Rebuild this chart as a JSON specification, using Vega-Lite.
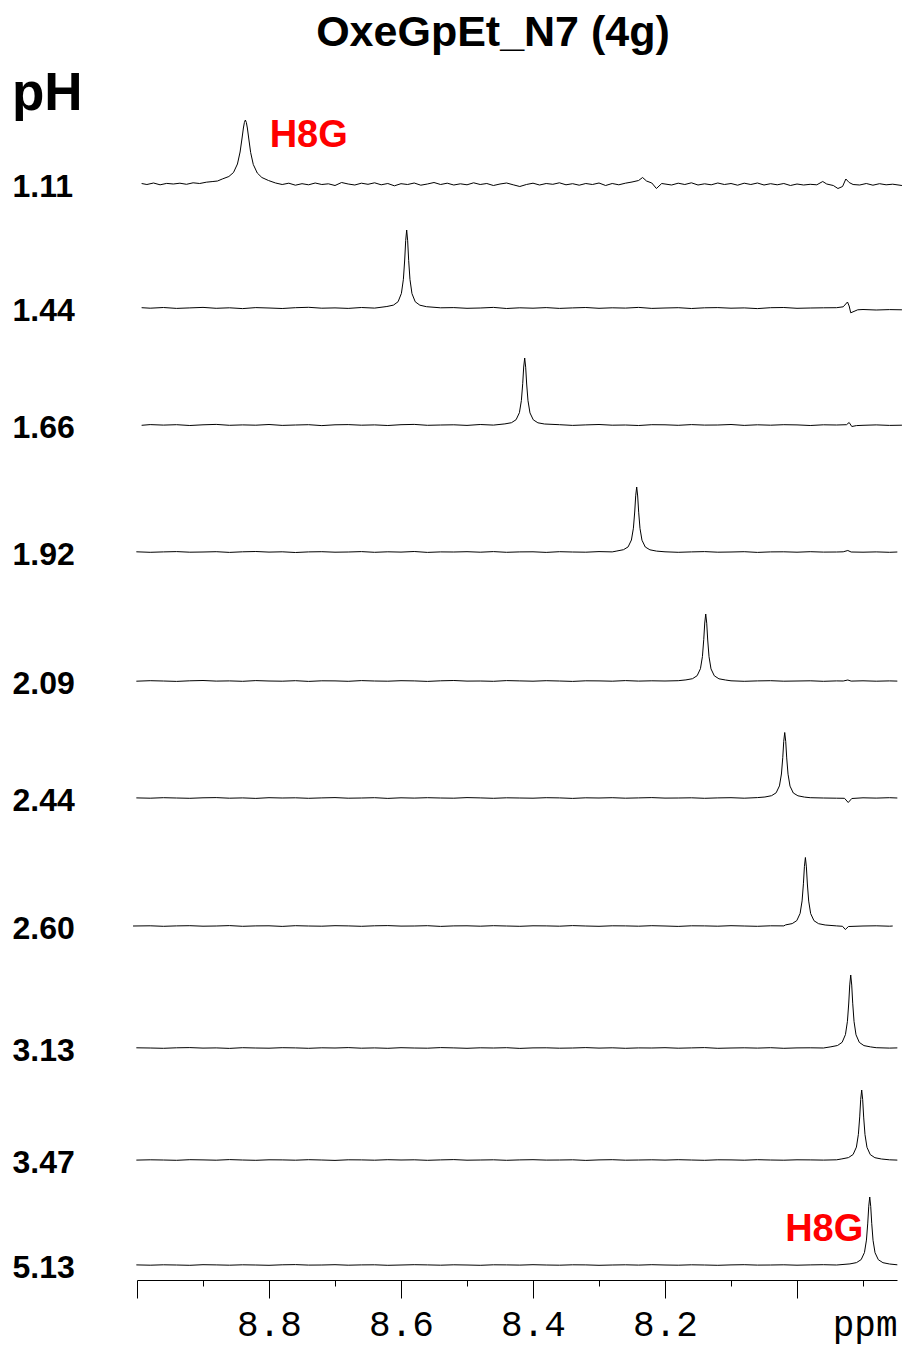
{
  "$schema": "https://vega.github.io/schema/vega-lite/v6.json",
  "padding": {"left": 12, "top": 12, "right": 0, "bottom": 2},
  "title": {"text": "OxeGpEt_N7 (4g)", "anchor": "middle", "font": "Liberation Sans", "fontSize": 43, "fontWeight": "bold", "color": "black", "dx": 35, "offset": 13},
  "data": {"values": [
    {"pH":"1.11","ppm":8.993,"signal":0.5},{"pH":"1.11","ppm":8.985,"signal":-0.5},{"pH":"1.11","ppm":8.975,"signal":1.0},{"pH":"1.11","ppm":8.965,"signal":-0.8},{"pH":"1.11","ppm":8.955,"signal":0.6},{"pH":"1.11","ppm":8.945,"signal":0.0},{"pH":"1.11","ppm":8.935,"signal":0.8},{"pH":"1.11","ppm":8.925,"signal":-0.3},{"pH":"1.11","ppm":8.915,"signal":1.2},{"pH":"1.11","ppm":8.905,"signal":0.5},{"pH":"1.11","ppm":8.895,"signal":1.8},{"pH":"1.11","ppm":8.885,"signal":2.5},{"pH":"1.11","ppm":8.878,"signal":3.0},
    {"pH":"1.11","ppm":8.8708,"signal":5.0},{"pH":"1.11","ppm":8.8608,"signal":7.5},{"pH":"1.11","ppm":8.8538,"signal":11.5},{"pH":"1.11","ppm":8.8478,"signal":20},{"pH":"1.11","ppm":8.8438,"signal":32},{"pH":"1.11","ppm":8.8408,"signal":46},{"pH":"1.11","ppm":8.8388,"signal":56},{"pH":"1.11","ppm":8.8373,"signal":61.5},{"pH":"1.11","ppm":8.8358,"signal":64},{"pH":"1.11","ppm":8.8343,"signal":61.5},{"pH":"1.11","ppm":8.8328,"signal":56},{"pH":"1.11","ppm":8.8308,"signal":46},{"pH":"1.11","ppm":8.8278,"signal":31.5},{"pH":"1.11","ppm":8.8238,"signal":19.5},{"pH":"1.11","ppm":8.8178,"signal":11},{"pH":"1.11","ppm":8.8108,"signal":6.5},{"pH":"1.11","ppm":8.8008,"signal":3.5},
    {"pH":"1.11","ppm":8.79,"signal":1.0},{"pH":"1.11","ppm":8.78,"signal":-0.5},{"pH":"1.11","ppm":8.77,"signal":0.8},{"pH":"1.11","ppm":8.76,"signal":-1.2},{"pH":"1.11","ppm":8.75,"signal":0.3},{"pH":"1.11","ppm":8.74,"signal":-0.8},{"pH":"1.11","ppm":8.73,"signal":1.0},{"pH":"1.11","ppm":8.72,"signal":-0.5},{"pH":"1.11","ppm":8.71,"signal":0.2},{"pH":"1.11","ppm":8.70,"signal":-1.5},{"pH":"1.11","ppm":8.69,"signal":1.5},{"pH":"1.11","ppm":8.68,"signal":0.0},{"pH":"1.11","ppm":8.67,"signal":-1.0},{"pH":"1.11","ppm":8.66,"signal":0.8},{"pH":"1.11","ppm":8.65,"signal":-0.3},{"pH":"1.11","ppm":8.64,"signal":1.2},{"pH":"1.11","ppm":8.63,"signal":-0.8},{"pH":"1.11","ppm":8.62,"signal":0.5},{"pH":"1.11","ppm":8.61,"signal":-1.8},{"pH":"1.11","ppm":8.60,"signal":0.3},{"pH":"1.11","ppm":8.59,"signal":-0.5},{"pH":"1.11","ppm":8.58,"signal":1.0},{"pH":"1.11","ppm":8.57,"signal":-1.2},{"pH":"1.11","ppm":8.56,"signal":0.0},{"pH":"1.11","ppm":8.55,"signal":1.5},{"pH":"1.11","ppm":8.54,"signal":-0.5},{"pH":"1.11","ppm":8.53,"signal":0.8},{"pH":"1.11","ppm":8.52,"signal":-1.0},{"pH":"1.11","ppm":8.51,"signal":0.2},{"pH":"1.11","ppm":8.50,"signal":-0.8},{"pH":"1.11","ppm":8.49,"signal":1.2},{"pH":"1.11","ppm":8.48,"signal":-0.5},{"pH":"1.11","ppm":8.47,"signal":0.5},{"pH":"1.11","ppm":8.46,"signal":-1.5},{"pH":"1.11","ppm":8.45,"signal":0.0},{"pH":"1.11","ppm":8.44,"signal":1.0},{"pH":"1.11","ppm":8.43,"signal":-0.8},{"pH":"1.11","ppm":8.42,"signal":-2.5},{"pH":"1.11","ppm":8.41,"signal":-0.5},{"pH":"1.11","ppm":8.40,"signal":0.8},{"pH":"1.11","ppm":8.39,"signal":-1.0},{"pH":"1.11","ppm":8.38,"signal":0.5},{"pH":"1.11","ppm":8.37,"signal":-0.3},{"pH":"1.11","ppm":8.36,"signal":1.2},{"pH":"1.11","ppm":8.35,"signal":-0.8},{"pH":"1.11","ppm":8.34,"signal":0.3},{"pH":"1.11","ppm":8.33,"signal":-1.2},{"pH":"1.11","ppm":8.32,"signal":0.5},{"pH":"1.11","ppm":8.31,"signal":-0.5},{"pH":"1.11","ppm":8.30,"signal":1.0},{"pH":"1.11","ppm":8.29,"signal":-1.5},{"pH":"1.11","ppm":8.28,"signal":0.5},{"pH":"1.11","ppm":8.27,"signal":-0.8},{"pH":"1.11","ppm":8.26,"signal":0.8},{"pH":"1.11","ppm":8.25,"signal":2.0},{"pH":"1.11","ppm":8.24,"signal":3.5},{"pH":"1.11","ppm":8.234,"signal":6.5},{"pH":"1.11","ppm":8.228,"signal":3.0},{"pH":"1.11","ppm":8.22,"signal":1.0},{"pH":"1.11","ppm":8.213,"signal":-4.5},{"pH":"1.11","ppm":8.205,"signal":0.5},{"pH":"1.11","ppm":8.19,"signal":-1.0},{"pH":"1.11","ppm":8.18,"signal":0.8},{"pH":"1.11","ppm":8.17,"signal":-0.5},{"pH":"1.11","ppm":8.16,"signal":1.2},{"pH":"1.11","ppm":8.15,"signal":-1.0},{"pH":"1.11","ppm":8.14,"signal":0.2},{"pH":"1.11","ppm":8.13,"signal":-0.8},{"pH":"1.11","ppm":8.12,"signal":1.0},{"pH":"1.11","ppm":8.11,"signal":-0.5},{"pH":"1.11","ppm":8.10,"signal":0.5},{"pH":"1.11","ppm":8.09,"signal":-1.2},{"pH":"1.11","ppm":8.08,"signal":0.8},{"pH":"1.11","ppm":8.07,"signal":-0.5},{"pH":"1.11","ppm":8.06,"signal":1.0},{"pH":"1.11","ppm":8.05,"signal":-1.0},{"pH":"1.11","ppm":8.04,"signal":0.3},{"pH":"1.11","ppm":8.03,"signal":-0.8},{"pH":"1.11","ppm":8.02,"signal":0.5},{"pH":"1.11","ppm":8.01,"signal":-1.5},{"pH":"1.11","ppm":8.00,"signal":0.0},{"pH":"1.11","ppm":7.99,"signal":-1.0},{"pH":"1.11","ppm":7.98,"signal":-0.3},{"pH":"1.11","ppm":7.97,"signal":-0.8},{"pH":"1.11","ppm":7.961,"signal":2.5},{"pH":"1.11","ppm":7.955,"signal":0.0},{"pH":"1.11","ppm":7.945,"signal":-1.5},{"pH":"1.11","ppm":7.938,"signal":-4.5},{"pH":"1.11","ppm":7.931,"signal":-2.5},{"pH":"1.11","ppm":7.926,"signal":5.0},{"pH":"1.11","ppm":7.921,"signal":1.5},{"pH":"1.11","ppm":7.915,"signal":-0.5},{"pH":"1.11","ppm":7.905,"signal":-1.0},{"pH":"1.11","ppm":7.895,"signal":0.5},{"pH":"1.11","ppm":7.885,"signal":-1.2},{"pH":"1.11","ppm":7.875,"signal":0.3},{"pH":"1.11","ppm":7.865,"signal":-0.8},{"pH":"1.11","ppm":7.855,"signal":-0.2},{"pH":"1.11","ppm":7.841,"signal":-1.5},

    {"pH":"1.44","ppm":8.993,"signal":0.3},{"pH":"1.44","ppm":8.98,"signal":-0.2},{"pH":"1.44","ppm":8.96,"signal":0.5},{"pH":"1.44","ppm":8.94,"signal":-0.4},{"pH":"1.44","ppm":8.92,"signal":0.1},{"pH":"1.44","ppm":8.90,"signal":0.6},{"pH":"1.44","ppm":8.88,"signal":-0.3},{"pH":"1.44","ppm":8.86,"signal":0.2},{"pH":"1.44","ppm":8.84,"signal":-0.6},{"pH":"1.44","ppm":8.82,"signal":0.4},{"pH":"1.44","ppm":8.80,"signal":0.0},{"pH":"1.44","ppm":8.78,"signal":-0.5},{"pH":"1.44","ppm":8.76,"signal":0.3},{"pH":"1.44","ppm":8.74,"signal":0.7},{"pH":"1.44","ppm":8.72,"signal":-0.2},{"pH":"1.44","ppm":8.70,"signal":0.1},{"pH":"1.44","ppm":8.68,"signal":-0.4},{"pH":"1.44","ppm":8.66,"signal":0.5},{"pH":"1.44","ppm":8.64,"signal":-0.1},
    {"pH":"1.44","ppm":8.6214,"signal":1.5},{"pH":"1.44","ppm":8.6114,"signal":2.9},{"pH":"1.44","ppm":8.6044,"signal":6.3},{"pH":"1.44","ppm":8.5994,"signal":14.6},{"pH":"1.44","ppm":8.5964,"signal":28.7},{"pH":"1.44","ppm":8.5944,"signal":48},{"pH":"1.44","ppm":8.5929,"signal":67.5},{"pH":"1.44","ppm":8.5914,"signal":78},{"pH":"1.44","ppm":8.5899,"signal":67.2},{"pH":"1.44","ppm":8.5884,"signal":47.6},{"pH":"1.44","ppm":8.5864,"signal":28.5},{"pH":"1.44","ppm":8.5834,"signal":14.4},{"pH":"1.44","ppm":8.5784,"signal":6.2},{"pH":"1.44","ppm":8.5714,"signal":2.8},{"pH":"1.44","ppm":8.5614,"signal":1.3},
    {"pH":"1.44","ppm":8.54,"signal":0.2},{"pH":"1.44","ppm":8.52,"signal":0.4},{"pH":"1.44","ppm":8.50,"signal":-0.3},{"pH":"1.44","ppm":8.48,"signal":0.0},{"pH":"1.44","ppm":8.46,"signal":0.6},{"pH":"1.44","ppm":8.44,"signal":-0.5},{"pH":"1.44","ppm":8.42,"signal":0.2},{"pH":"1.44","ppm":8.40,"signal":-0.2},{"pH":"1.44","ppm":8.38,"signal":0.4},{"pH":"1.44","ppm":8.36,"signal":-0.4},{"pH":"1.44","ppm":8.34,"signal":0.1},{"pH":"1.44","ppm":8.32,"signal":0.5},{"pH":"1.44","ppm":8.30,"signal":-0.3},{"pH":"1.44","ppm":8.28,"signal":0.2},{"pH":"1.44","ppm":8.26,"signal":-0.1},{"pH":"1.44","ppm":8.24,"signal":0.6},{"pH":"1.44","ppm":8.22,"signal":-0.4},{"pH":"1.44","ppm":8.20,"signal":0.0},{"pH":"1.44","ppm":8.18,"signal":0.3},{"pH":"1.44","ppm":8.16,"signal":-0.5},{"pH":"1.44","ppm":8.14,"signal":0.2},{"pH":"1.44","ppm":8.12,"signal":0.4},{"pH":"1.44","ppm":8.10,"signal":-0.2},{"pH":"1.44","ppm":8.08,"signal":0.1},{"pH":"1.44","ppm":8.06,"signal":-0.6},{"pH":"1.44","ppm":8.04,"signal":0.3},{"pH":"1.44","ppm":8.02,"signal":0.5},{"pH":"1.44","ppm":8.00,"signal":-0.3},{"pH":"1.44","ppm":7.98,"signal":0.0},{"pH":"1.44","ppm":7.96,"signal":0.2},{"pH":"1.44","ppm":7.94,"signal":0.3},{"pH":"1.44","ppm":7.93,"signal":1.2},{"pH":"1.44","ppm":7.9235,"signal":6.0},{"pH":"1.44","ppm":7.921,"signal":2.0},{"pH":"1.44","ppm":7.9186,"signal":-4.8},{"pH":"1.44","ppm":7.908,"signal":-1.8},{"pH":"1.44","ppm":7.90,"signal":-1.5},{"pH":"1.44","ppm":7.88,"signal":-2.0},{"pH":"1.44","ppm":7.86,"signal":-1.6},{"pH":"1.44","ppm":7.841,"signal":-1.8},

    {"pH":"1.66","ppm":8.993,"signal":-0.3},{"pH":"1.66","ppm":8.98,"signal":0.4},{"pH":"1.66","ppm":8.96,"signal":-0.1},{"pH":"1.66","ppm":8.94,"signal":0.3},{"pH":"1.66","ppm":8.92,"signal":-0.5},{"pH":"1.66","ppm":8.90,"signal":0.2},{"pH":"1.66","ppm":8.88,"signal":0.6},{"pH":"1.66","ppm":8.86,"signal":-0.3},{"pH":"1.66","ppm":8.84,"signal":0.1},{"pH":"1.66","ppm":8.82,"signal":-0.2},{"pH":"1.66","ppm":8.80,"signal":0.5},{"pH":"1.66","ppm":8.78,"signal":-0.4},{"pH":"1.66","ppm":8.76,"signal":0.0},{"pH":"1.66","ppm":8.74,"signal":0.3},{"pH":"1.66","ppm":8.72,"signal":-0.6},{"pH":"1.66","ppm":8.70,"signal":0.2},{"pH":"1.66","ppm":8.68,"signal":0.4},{"pH":"1.66","ppm":8.66,"signal":-0.2},{"pH":"1.66","ppm":8.64,"signal":0.1},{"pH":"1.66","ppm":8.62,"signal":-0.5},{"pH":"1.66","ppm":8.60,"signal":0.3},{"pH":"1.66","ppm":8.58,"signal":0.6},{"pH":"1.66","ppm":8.56,"signal":-0.3},{"pH":"1.66","ppm":8.54,"signal":0.0},{"pH":"1.66","ppm":8.52,"signal":0.2},{"pH":"1.66","ppm":8.50,"signal":-0.4},{"pH":"1.66","ppm":8.48,"signal":0.5},{"pH":"1.66","ppm":8.46,"signal":-0.1},
    {"pH":"1.66","ppm":8.4426,"signal":1.1},{"pH":"1.66","ppm":8.4326,"signal":2.3},{"pH":"1.66","ppm":8.4256,"signal":5.3},{"pH":"1.66","ppm":8.4206,"signal":12.3},{"pH":"1.66","ppm":8.4176,"signal":24.5},{"pH":"1.66","ppm":8.4156,"signal":41.3},{"pH":"1.66","ppm":8.4141,"signal":58.0},{"pH":"1.66","ppm":8.4126,"signal":67},{"pH":"1.66","ppm":8.4111,"signal":57.8},{"pH":"1.66","ppm":8.4096,"signal":41.0},{"pH":"1.66","ppm":8.4076,"signal":24.3},{"pH":"1.66","ppm":8.4046,"signal":12.1},{"pH":"1.66","ppm":8.3996,"signal":5.2},{"pH":"1.66","ppm":8.3926,"signal":2.2},{"pH":"1.66","ppm":8.3826,"signal":1.0},
    {"pH":"1.66","ppm":8.36,"signal":0.3},{"pH":"1.66","ppm":8.34,"signal":-0.4},{"pH":"1.66","ppm":8.32,"signal":0.1},{"pH":"1.66","ppm":8.30,"signal":0.5},{"pH":"1.66","ppm":8.28,"signal":-0.2},{"pH":"1.66","ppm":8.26,"signal":0.0},{"pH":"1.66","ppm":8.24,"signal":-0.5},{"pH":"1.66","ppm":8.22,"signal":0.3},{"pH":"1.66","ppm":8.20,"signal":0.2},{"pH":"1.66","ppm":8.18,"signal":-0.3},{"pH":"1.66","ppm":8.16,"signal":0.4},{"pH":"1.66","ppm":8.14,"signal":-0.1},{"pH":"1.66","ppm":8.12,"signal":0.0},{"pH":"1.66","ppm":8.10,"signal":0.5},{"pH":"1.66","ppm":8.08,"signal":-0.4},{"pH":"1.66","ppm":8.06,"signal":0.2},{"pH":"1.66","ppm":8.04,"signal":-0.2},{"pH":"1.66","ppm":8.02,"signal":0.3},{"pH":"1.66","ppm":8.00,"signal":0.1},{"pH":"1.66","ppm":7.98,"signal":-0.5},{"pH":"1.66","ppm":7.96,"signal":0.2},{"pH":"1.66","ppm":7.94,"signal":0.0},{"pH":"1.66","ppm":7.925,"signal":0.3},{"pH":"1.66","ppm":7.921,"signal":2.5},{"pH":"1.66","ppm":7.917,"signal":-1.5},{"pH":"1.66","ppm":7.91,"signal":-0.6},{"pH":"1.66","ppm":7.90,"signal":-0.3},{"pH":"1.66","ppm":7.88,"signal":0.1},{"pH":"1.66","ppm":7.86,"signal":-0.4},{"pH":"1.66","ppm":7.841,"signal":-0.2},

    {"pH":"1.92","ppm":9.001,"signal":0.2},{"pH":"1.92","ppm":8.98,"signal":-0.3},{"pH":"1.92","ppm":8.96,"signal":0.1},{"pH":"1.92","ppm":8.94,"signal":0.4},{"pH":"1.92","ppm":8.92,"signal":-0.2},{"pH":"1.92","ppm":8.90,"signal":0.0},{"pH":"1.92","ppm":8.88,"signal":0.3},{"pH":"1.92","ppm":8.86,"signal":-0.4},{"pH":"1.92","ppm":8.84,"signal":0.2},{"pH":"1.92","ppm":8.82,"signal":0.5},{"pH":"1.92","ppm":8.80,"signal":-0.1},{"pH":"1.92","ppm":8.78,"signal":0.2},{"pH":"1.92","ppm":8.76,"signal":-0.5},{"pH":"1.92","ppm":8.74,"signal":0.1},{"pH":"1.92","ppm":8.72,"signal":0.3},{"pH":"1.92","ppm":8.70,"signal":-0.2},{"pH":"1.92","ppm":8.68,"signal":0.0},{"pH":"1.92","ppm":8.66,"signal":0.4},{"pH":"1.92","ppm":8.64,"signal":-0.3},{"pH":"1.92","ppm":8.62,"signal":0.2},{"pH":"1.92","ppm":8.60,"signal":-0.1},{"pH":"1.92","ppm":8.58,"signal":0.5},{"pH":"1.92","ppm":8.56,"signal":-0.4},{"pH":"1.92","ppm":8.54,"signal":0.1},{"pH":"1.92","ppm":8.52,"signal":0.0},{"pH":"1.92","ppm":8.50,"signal":0.3},{"pH":"1.92","ppm":8.48,"signal":-0.2},{"pH":"1.92","ppm":8.46,"signal":0.4},{"pH":"1.92","ppm":8.44,"signal":-0.3},{"pH":"1.92","ppm":8.42,"signal":0.1},{"pH":"1.92","ppm":8.40,"signal":0.2},{"pH":"1.92","ppm":8.38,"signal":-0.4},{"pH":"1.92","ppm":8.36,"signal":0.3},{"pH":"1.92","ppm":8.34,"signal":0.0},{"pH":"1.92","ppm":8.32,"signal":-0.2},{"pH":"1.92","ppm":8.30,"signal":0.4},{"pH":"1.92","ppm":8.28,"signal":0.1},
    {"pH":"1.92","ppm":8.2729,"signal":1.0},{"pH":"1.92","ppm":8.2629,"signal":2.3},{"pH":"1.92","ppm":8.2559,"signal":5.1},{"pH":"1.92","ppm":8.2509,"signal":12.0},{"pH":"1.92","ppm":8.2479,"signal":23.8},{"pH":"1.92","ppm":8.2459,"signal":40.0},{"pH":"1.92","ppm":8.2444,"signal":56.2},{"pH":"1.92","ppm":8.2429,"signal":65},{"pH":"1.92","ppm":8.2414,"signal":56.0},{"pH":"1.92","ppm":8.2399,"signal":39.8},{"pH":"1.92","ppm":8.2379,"signal":23.6},{"pH":"1.92","ppm":8.2349,"signal":11.8},{"pH":"1.92","ppm":8.2299,"signal":5.0},{"pH":"1.92","ppm":8.2229,"signal":2.2},{"pH":"1.92","ppm":8.2129,"signal":0.9},
    {"pH":"1.92","ppm":8.20,"signal":0.2},{"pH":"1.92","ppm":8.18,"signal":-0.3},{"pH":"1.92","ppm":8.16,"signal":0.1},{"pH":"1.92","ppm":8.14,"signal":0.4},{"pH":"1.92","ppm":8.12,"signal":-0.2},{"pH":"1.92","ppm":8.10,"signal":0.0},{"pH":"1.92","ppm":8.08,"signal":0.3},{"pH":"1.92","ppm":8.06,"signal":-0.4},{"pH":"1.92","ppm":8.04,"signal":0.1},{"pH":"1.92","ppm":8.02,"signal":0.2},{"pH":"1.92","ppm":8.00,"signal":-0.2},{"pH":"1.92","ppm":7.98,"signal":0.3},{"pH":"1.92","ppm":7.96,"signal":-0.1},{"pH":"1.92","ppm":7.94,"signal":0.0},{"pH":"1.92","ppm":7.93,"signal":0.2},{"pH":"1.92","ppm":7.923,"signal":1.5},{"pH":"1.92","ppm":7.918,"signal":0.0},{"pH":"1.92","ppm":7.90,"signal":-0.2},{"pH":"1.92","ppm":7.88,"signal":0.1},{"pH":"1.92","ppm":7.86,"signal":-0.3},{"pH":"1.92","ppm":7.848,"signal":0.0},

    {"pH":"2.09","ppm":9.001,"signal":-0.2},{"pH":"2.09","ppm":8.98,"signal":0.3},{"pH":"2.09","ppm":8.96,"signal":0.0},{"pH":"2.09","ppm":8.94,"signal":-0.4},{"pH":"2.09","ppm":8.92,"signal":0.2},{"pH":"2.09","ppm":8.90,"signal":0.5},{"pH":"2.09","ppm":8.88,"signal":-0.1},{"pH":"2.09","ppm":8.86,"signal":0.1},{"pH":"2.09","ppm":8.84,"signal":-0.3},{"pH":"2.09","ppm":8.82,"signal":0.4},{"pH":"2.09","ppm":8.80,"signal":0.0},{"pH":"2.09","ppm":8.78,"signal":-0.2},{"pH":"2.09","ppm":8.76,"signal":0.3},{"pH":"2.09","ppm":8.74,"signal":-0.4},{"pH":"2.09","ppm":8.72,"signal":0.2},{"pH":"2.09","ppm":8.70,"signal":0.1},{"pH":"2.09","ppm":8.68,"signal":-0.3},{"pH":"2.09","ppm":8.66,"signal":0.4},{"pH":"2.09","ppm":8.64,"signal":0.0},{"pH":"2.09","ppm":8.62,"signal":-0.2},{"pH":"2.09","ppm":8.60,"signal":0.3},{"pH":"2.09","ppm":8.58,"signal":0.1},{"pH":"2.09","ppm":8.56,"signal":-0.4},{"pH":"2.09","ppm":8.54,"signal":0.2},{"pH":"2.09","ppm":8.52,"signal":0.5},{"pH":"2.09","ppm":8.50,"signal":-0.1},{"pH":"2.09","ppm":8.48,"signal":0.0},{"pH":"2.09","ppm":8.46,"signal":-0.3},{"pH":"2.09","ppm":8.44,"signal":0.4},{"pH":"2.09","ppm":8.42,"signal":0.1},{"pH":"2.09","ppm":8.40,"signal":-0.2},{"pH":"2.09","ppm":8.38,"signal":0.3},{"pH":"2.09","ppm":8.36,"signal":0.0},{"pH":"2.09","ppm":8.34,"signal":-0.4},{"pH":"2.09","ppm":8.32,"signal":0.2},{"pH":"2.09","ppm":8.30,"signal":0.1},{"pH":"2.09","ppm":8.28,"signal":-0.2},{"pH":"2.09","ppm":8.26,"signal":0.4},{"pH":"2.09","ppm":8.24,"signal":-0.1},{"pH":"2.09","ppm":8.22,"signal":0.2},{"pH":"2.09","ppm":8.20,"signal":0.0},{"pH":"2.09","ppm":8.18,"signal":0.3},
    {"pH":"2.09","ppm":8.1683,"signal":1.1},{"pH":"2.09","ppm":8.1583,"signal":2.3},{"pH":"2.09","ppm":8.1513,"signal":5.3},{"pH":"2.09","ppm":8.1463,"signal":12.3},{"pH":"2.09","ppm":8.1433,"signal":24.5},{"pH":"2.09","ppm":8.1413,"signal":41.3},{"pH":"2.09","ppm":8.1398,"signal":58.0},{"pH":"2.09","ppm":8.1383,"signal":67},{"pH":"2.09","ppm":8.1368,"signal":57.8},{"pH":"2.09","ppm":8.1353,"signal":41.0},{"pH":"2.09","ppm":8.1333,"signal":24.3},{"pH":"2.09","ppm":8.1303,"signal":12.1},{"pH":"2.09","ppm":8.1253,"signal":5.2},{"pH":"2.09","ppm":8.1183,"signal":2.2},{"pH":"2.09","ppm":8.1083,"signal":1.0},
    {"pH":"2.09","ppm":8.10,"signal":0.2},{"pH":"2.09","ppm":8.08,"signal":-0.3},{"pH":"2.09","ppm":8.06,"signal":0.1},{"pH":"2.09","ppm":8.04,"signal":0.3},{"pH":"2.09","ppm":8.02,"signal":-0.2},{"pH":"2.09","ppm":8.00,"signal":0.0},{"pH":"2.09","ppm":7.98,"signal":0.2},{"pH":"2.09","ppm":7.96,"signal":-0.3},{"pH":"2.09","ppm":7.94,"signal":0.1},{"pH":"2.09","ppm":7.93,"signal":0.0},{"pH":"2.09","ppm":7.923,"signal":1.0},{"pH":"2.09","ppm":7.918,"signal":-0.1},{"pH":"2.09","ppm":7.90,"signal":0.2},{"pH":"2.09","ppm":7.88,"signal":-0.2},{"pH":"2.09","ppm":7.86,"signal":0.1},{"pH":"2.09","ppm":7.848,"signal":-0.1},

    {"pH":"2.44","ppm":9.001,"signal":0.1},{"pH":"2.44","ppm":8.98,"signal":-0.2},{"pH":"2.44","ppm":8.96,"signal":0.3},{"pH":"2.44","ppm":8.94,"signal":0.0},{"pH":"2.44","ppm":8.92,"signal":-0.3},{"pH":"2.44","ppm":8.90,"signal":0.2},{"pH":"2.44","ppm":8.88,"signal":0.4},{"pH":"2.44","ppm":8.86,"signal":-0.2},{"pH":"2.44","ppm":8.84,"signal":0.1},{"pH":"2.44","ppm":8.82,"signal":-0.4},{"pH":"2.44","ppm":8.80,"signal":0.3},{"pH":"2.44","ppm":8.78,"signal":0.0},{"pH":"2.44","ppm":8.76,"signal":0.2},{"pH":"2.44","ppm":8.74,"signal":-0.3},{"pH":"2.44","ppm":8.72,"signal":0.1},{"pH":"2.44","ppm":8.70,"signal":0.4},{"pH":"2.44","ppm":8.68,"signal":-0.2},{"pH":"2.44","ppm":8.66,"signal":0.0},{"pH":"2.44","ppm":8.64,"signal":0.3},{"pH":"2.44","ppm":8.62,"signal":-0.4},{"pH":"2.44","ppm":8.60,"signal":0.2},{"pH":"2.44","ppm":8.58,"signal":-0.1},{"pH":"2.44","ppm":8.56,"signal":0.3},{"pH":"2.44","ppm":8.54,"signal":0.0},{"pH":"2.44","ppm":8.52,"signal":-0.2},{"pH":"2.44","ppm":8.50,"signal":0.4},{"pH":"2.44","ppm":8.48,"signal":0.1},{"pH":"2.44","ppm":8.46,"signal":-0.3},{"pH":"2.44","ppm":8.44,"signal":0.2},{"pH":"2.44","ppm":8.42,"signal":0.0},{"pH":"2.44","ppm":8.40,"signal":-0.2},{"pH":"2.44","ppm":8.38,"signal":0.3},{"pH":"2.44","ppm":8.36,"signal":0.1},{"pH":"2.44","ppm":8.34,"signal":-0.4},{"pH":"2.44","ppm":8.32,"signal":0.2},{"pH":"2.44","ppm":8.30,"signal":0.0},{"pH":"2.44","ppm":8.28,"signal":0.3},{"pH":"2.44","ppm":8.26,"signal":-0.2},{"pH":"2.44","ppm":8.24,"signal":0.1},{"pH":"2.44","ppm":8.22,"signal":0.4},{"pH":"2.44","ppm":8.20,"signal":-0.1},{"pH":"2.44","ppm":8.18,"signal":0.0},{"pH":"2.44","ppm":8.16,"signal":0.2},{"pH":"2.44","ppm":8.14,"signal":-0.3},{"pH":"2.44","ppm":8.12,"signal":0.1},{"pH":"2.44","ppm":8.10,"signal":0.3},{"pH":"2.44","ppm":8.08,"signal":-0.2},{"pH":"2.44","ppm":8.06,"signal":0.4},
    {"pH":"2.44","ppm":8.0486,"signal":1.0},{"pH":"2.44","ppm":8.0386,"signal":2.3},{"pH":"2.44","ppm":8.0316,"signal":5.2},{"pH":"2.44","ppm":8.0266,"signal":12.1},{"pH":"2.44","ppm":8.0236,"signal":24.0},{"pH":"2.44","ppm":8.0216,"signal":40.3},{"pH":"2.44","ppm":8.0201,"signal":56.7},{"pH":"2.44","ppm":8.0186,"signal":65.5},{"pH":"2.44","ppm":8.0171,"signal":56.5},{"pH":"2.44","ppm":8.0156,"signal":40.1},{"pH":"2.44","ppm":8.0136,"signal":23.8},{"pH":"2.44","ppm":8.0106,"signal":11.9},{"pH":"2.44","ppm":8.0056,"signal":5.0},{"pH":"2.44","ppm":7.9986,"signal":2.2},{"pH":"2.44","ppm":7.9886,"signal":0.9},
    {"pH":"2.44","ppm":7.98,"signal":0.3},{"pH":"2.44","ppm":7.96,"signal":0.0},{"pH":"2.44","ppm":7.94,"signal":-0.2},{"pH":"2.44","ppm":7.928,"signal":-0.3},{"pH":"2.44","ppm":7.9224,"signal":-4.5},{"pH":"2.44","ppm":7.917,"signal":-0.5},{"pH":"2.44","ppm":7.90,"signal":0.2},{"pH":"2.44","ppm":7.88,"signal":-0.1},{"pH":"2.44","ppm":7.86,"signal":0.3},{"pH":"2.44","ppm":7.848,"signal":0.0},

    {"pH":"2.60","ppm":9.006,"signal":0.0},{"pH":"2.60","ppm":8.98,"signal":0.2},{"pH":"2.60","ppm":8.96,"signal":-0.3},{"pH":"2.60","ppm":8.94,"signal":0.1},{"pH":"2.60","ppm":8.92,"signal":0.3},{"pH":"2.60","ppm":8.90,"signal":-0.2},{"pH":"2.60","ppm":8.88,"signal":0.0},{"pH":"2.60","ppm":8.86,"signal":0.4},{"pH":"2.60","ppm":8.84,"signal":-0.3},{"pH":"2.60","ppm":8.82,"signal":0.1},{"pH":"2.60","ppm":8.80,"signal":0.2},{"pH":"2.60","ppm":8.78,"signal":-0.4},{"pH":"2.60","ppm":8.76,"signal":0.3},{"pH":"2.60","ppm":8.74,"signal":0.0},{"pH":"2.60","ppm":8.72,"signal":-0.2},{"pH":"2.60","ppm":8.70,"signal":0.3},{"pH":"2.60","ppm":8.68,"signal":0.1},{"pH":"2.60","ppm":8.66,"signal":-0.3},{"pH":"2.60","ppm":8.64,"signal":0.2},{"pH":"2.60","ppm":8.62,"signal":0.4},{"pH":"2.60","ppm":8.60,"signal":-0.1},{"pH":"2.60","ppm":8.58,"signal":0.0},{"pH":"2.60","ppm":8.56,"signal":0.3},{"pH":"2.60","ppm":8.54,"signal":-0.4},{"pH":"2.60","ppm":8.52,"signal":0.1},{"pH":"2.60","ppm":8.50,"signal":0.2},{"pH":"2.60","ppm":8.48,"signal":-0.2},{"pH":"2.60","ppm":8.46,"signal":0.3},{"pH":"2.60","ppm":8.44,"signal":0.0},{"pH":"2.60","ppm":8.42,"signal":-0.3},{"pH":"2.60","ppm":8.40,"signal":0.2},{"pH":"2.60","ppm":8.38,"signal":0.1},{"pH":"2.60","ppm":8.36,"signal":-0.2},{"pH":"2.60","ppm":8.34,"signal":0.4},{"pH":"2.60","ppm":8.32,"signal":0.0},{"pH":"2.60","ppm":8.30,"signal":-0.3},{"pH":"2.60","ppm":8.28,"signal":0.2},{"pH":"2.60","ppm":8.26,"signal":0.1},{"pH":"2.60","ppm":8.24,"signal":-0.2},{"pH":"2.60","ppm":8.22,"signal":0.3},{"pH":"2.60","ppm":8.20,"signal":0.0},{"pH":"2.60","ppm":8.18,"signal":-0.4},{"pH":"2.60","ppm":8.16,"signal":0.2},{"pH":"2.60","ppm":8.14,"signal":0.1},{"pH":"2.60","ppm":8.12,"signal":-0.2},{"pH":"2.60","ppm":8.10,"signal":0.3},{"pH":"2.60","ppm":8.08,"signal":0.0},{"pH":"2.60","ppm":8.06,"signal":-0.3},{"pH":"2.60","ppm":8.04,"signal":0.2},{"pH":"2.60","ppm":8.02,"signal":0.1},
    {"pH":"2.60","ppm":8.0173,"signal":1.1},{"pH":"2.60","ppm":8.0073,"signal":2.4},{"pH":"2.60","ppm":8.0003,"signal":5.4},{"pH":"2.60","ppm":7.9953,"signal":12.6},{"pH":"2.60","ppm":7.9923,"signal":25.1},{"pH":"2.60","ppm":7.9903,"signal":42.2},{"pH":"2.60","ppm":7.9888,"signal":59.3},{"pH":"2.60","ppm":7.9873,"signal":68.5},{"pH":"2.60","ppm":7.9858,"signal":59.1},{"pH":"2.60","ppm":7.9843,"signal":42.0},{"pH":"2.60","ppm":7.9823,"signal":24.9},{"pH":"2.60","ppm":7.9793,"signal":12.4},{"pH":"2.60","ppm":7.9743,"signal":5.3},{"pH":"2.60","ppm":7.9673,"signal":2.3},{"pH":"2.60","ppm":7.9573,"signal":1.0},
    {"pH":"2.60","ppm":7.94,"signal":0.1},{"pH":"2.60","ppm":7.931,"signal":-0.3},{"pH":"2.60","ppm":7.9268,"signal":-3.5},{"pH":"2.60","ppm":7.922,"signal":-0.5},{"pH":"2.60","ppm":7.90,"signal":0.0},{"pH":"2.60","ppm":7.88,"signal":0.2},{"pH":"2.60","ppm":7.86,"signal":-0.2},{"pH":"2.60","ppm":7.855,"signal":0.0},

    {"pH":"3.13","ppm":9.001,"signal":0.2},{"pH":"3.13","ppm":8.98,"signal":0.0},{"pH":"3.13","ppm":8.96,"signal":-0.3},{"pH":"3.13","ppm":8.94,"signal":0.2},{"pH":"3.13","ppm":8.92,"signal":0.4},{"pH":"3.13","ppm":8.90,"signal":-0.1},{"pH":"3.13","ppm":8.88,"signal":0.1},{"pH":"3.13","ppm":8.86,"signal":-0.4},{"pH":"3.13","ppm":8.84,"signal":0.3},{"pH":"3.13","ppm":8.82,"signal":0.0},{"pH":"3.13","ppm":8.80,"signal":-0.2},{"pH":"3.13","ppm":8.78,"signal":0.3},{"pH":"3.13","ppm":8.76,"signal":0.1},{"pH":"3.13","ppm":8.74,"signal":-0.3},{"pH":"3.13","ppm":8.72,"signal":0.2},{"pH":"3.13","ppm":8.70,"signal":0.0},{"pH":"3.13","ppm":8.68,"signal":0.4},{"pH":"3.13","ppm":8.66,"signal":-0.2},{"pH":"3.13","ppm":8.64,"signal":0.1},{"pH":"3.13","ppm":8.62,"signal":-0.3},{"pH":"3.13","ppm":8.60,"signal":0.3},{"pH":"3.13","ppm":8.58,"signal":0.0},{"pH":"3.13","ppm":8.56,"signal":-0.2},{"pH":"3.13","ppm":8.54,"signal":0.4},{"pH":"3.13","ppm":8.52,"signal":0.1},{"pH":"3.13","ppm":8.50,"signal":-0.3},{"pH":"3.13","ppm":8.48,"signal":0.2},{"pH":"3.13","ppm":8.46,"signal":0.0},{"pH":"3.13","ppm":8.44,"signal":0.3},{"pH":"3.13","ppm":8.42,"signal":-0.4},{"pH":"3.13","ppm":8.40,"signal":0.1},{"pH":"3.13","ppm":8.38,"signal":0.2},{"pH":"3.13","ppm":8.36,"signal":-0.2},{"pH":"3.13","ppm":8.34,"signal":0.0},{"pH":"3.13","ppm":8.32,"signal":0.4},{"pH":"3.13","ppm":8.30,"signal":-0.1},{"pH":"3.13","ppm":8.28,"signal":0.2},{"pH":"3.13","ppm":8.26,"signal":-0.3},{"pH":"3.13","ppm":8.24,"signal":0.1},{"pH":"3.13","ppm":8.22,"signal":0.0},{"pH":"3.13","ppm":8.20,"signal":0.3},{"pH":"3.13","ppm":8.18,"signal":-0.2},{"pH":"3.13","ppm":8.16,"signal":0.1},{"pH":"3.13","ppm":8.14,"signal":0.4},{"pH":"3.13","ppm":8.12,"signal":-0.3},{"pH":"3.13","ppm":8.10,"signal":0.0},{"pH":"3.13","ppm":8.08,"signal":0.2},{"pH":"3.13","ppm":8.06,"signal":-0.1},{"pH":"3.13","ppm":8.04,"signal":0.3},{"pH":"3.13","ppm":8.02,"signal":-0.3},{"pH":"3.13","ppm":8.00,"signal":0.1},{"pH":"3.13","ppm":7.98,"signal":0.2},{"pH":"3.13","ppm":7.96,"signal":0.0},
    {"pH":"3.13","ppm":7.9486,"signal":1.2},{"pH":"3.13","ppm":7.9386,"signal":2.5},{"pH":"3.13","ppm":7.9316,"signal":5.7},{"pH":"3.13","ppm":7.9266,"signal":13.4},{"pH":"3.13","ppm":7.9236,"signal":26.7},{"pH":"3.13","ppm":7.9216,"signal":45.0},{"pH":"3.13","ppm":7.9201,"signal":63.1},{"pH":"3.13","ppm":7.9186,"signal":73},{"pH":"3.13","ppm":7.9171,"signal":62.9},{"pH":"3.13","ppm":7.9156,"signal":44.8},{"pH":"3.13","ppm":7.9136,"signal":26.5},{"pH":"3.13","ppm":7.9106,"signal":13.2},{"pH":"3.13","ppm":7.9056,"signal":5.6},{"pH":"3.13","ppm":7.8986,"signal":2.4},{"pH":"3.13","ppm":7.8886,"signal":1.1},
    {"pH":"3.13","ppm":7.88,"signal":0.3},{"pH":"3.13","ppm":7.86,"signal":-0.1},{"pH":"3.13","ppm":7.848,"signal":0.1},

    {"pH":"3.47","ppm":9.001,"signal":-0.1},{"pH":"3.47","ppm":8.98,"signal":0.2},{"pH":"3.47","ppm":8.96,"signal":0.0},{"pH":"3.47","ppm":8.94,"signal":-0.3},{"pH":"3.47","ppm":8.92,"signal":0.3},{"pH":"3.47","ppm":8.90,"signal":0.1},{"pH":"3.47","ppm":8.88,"signal":-0.2},{"pH":"3.47","ppm":8.86,"signal":0.4},{"pH":"3.47","ppm":8.84,"signal":0.0},{"pH":"3.47","ppm":8.82,"signal":-0.3},{"pH":"3.47","ppm":8.80,"signal":0.2},{"pH":"3.47","ppm":8.78,"signal":0.1},{"pH":"3.47","ppm":8.76,"signal":-0.2},{"pH":"3.47","ppm":8.74,"signal":0.3},{"pH":"3.47","ppm":8.72,"signal":0.0},{"pH":"3.47","ppm":8.70,"signal":-0.4},{"pH":"3.47","ppm":8.68,"signal":0.2},{"pH":"3.47","ppm":8.66,"signal":0.1},{"pH":"3.47","ppm":8.64,"signal":-0.2},{"pH":"3.47","ppm":8.62,"signal":0.3},{"pH":"3.47","ppm":8.60,"signal":0.0},{"pH":"3.47","ppm":8.58,"signal":0.2},{"pH":"3.47","ppm":8.56,"signal":-0.3},{"pH":"3.47","ppm":8.54,"signal":0.1},{"pH":"3.47","ppm":8.52,"signal":0.4},{"pH":"3.47","ppm":8.50,"signal":-0.2},{"pH":"3.47","ppm":8.48,"signal":0.0},{"pH":"3.47","ppm":8.46,"signal":0.2},{"pH":"3.47","ppm":8.44,"signal":-0.3},{"pH":"3.47","ppm":8.42,"signal":0.1},{"pH":"3.47","ppm":8.40,"signal":0.3},{"pH":"3.47","ppm":8.38,"signal":-0.1},{"pH":"3.47","ppm":8.36,"signal":0.0},{"pH":"3.47","ppm":8.34,"signal":0.2},{"pH":"3.47","ppm":8.32,"signal":-0.4},{"pH":"3.47","ppm":8.30,"signal":0.1},{"pH":"3.47","ppm":8.28,"signal":0.3},{"pH":"3.47","ppm":8.26,"signal":-0.2},{"pH":"3.47","ppm":8.24,"signal":0.0},{"pH":"3.47","ppm":8.22,"signal":0.2},{"pH":"3.47","ppm":8.20,"signal":-0.1},{"pH":"3.47","ppm":8.18,"signal":0.3},{"pH":"3.47","ppm":8.16,"signal":0.0},{"pH":"3.47","ppm":8.14,"signal":-0.3},{"pH":"3.47","ppm":8.12,"signal":0.2},{"pH":"3.47","ppm":8.10,"signal":0.1},{"pH":"3.47","ppm":8.08,"signal":-0.2},{"pH":"3.47","ppm":8.06,"signal":0.3},{"pH":"3.47","ppm":8.04,"signal":0.0},{"pH":"3.47","ppm":8.02,"signal":-0.2},{"pH":"3.47","ppm":8.00,"signal":0.2},{"pH":"3.47","ppm":7.98,"signal":0.1},{"pH":"3.47","ppm":7.96,"signal":-0.1},{"pH":"3.47","ppm":7.94,"signal":0.2},
    {"pH":"3.47","ppm":7.932,"signal":1.1},{"pH":"3.47","ppm":7.922,"signal":2.4},{"pH":"3.47","ppm":7.915,"signal":5.5},{"pH":"3.47","ppm":7.910,"signal":12.9},{"pH":"3.47","ppm":7.907,"signal":25.6},{"pH":"3.47","ppm":7.905,"signal":43.1},{"pH":"3.47","ppm":7.9035,"signal":60.6},{"pH":"3.47","ppm":7.902,"signal":70},{"pH":"3.47","ppm":7.9005,"signal":60.4},{"pH":"3.47","ppm":7.899,"signal":42.9},{"pH":"3.47","ppm":7.897,"signal":25.4},{"pH":"3.47","ppm":7.894,"signal":12.7},{"pH":"3.47","ppm":7.889,"signal":5.4},{"pH":"3.47","ppm":7.882,"signal":2.3},{"pH":"3.47","ppm":7.872,"signal":1.0},
    {"pH":"3.47","ppm":7.86,"signal":0.2},{"pH":"3.47","ppm":7.848,"signal":-0.1},

    {"pH":"5.13","ppm":9.001,"signal":0.1},{"pH":"5.13","ppm":8.98,"signal":-0.2},{"pH":"5.13","ppm":8.96,"signal":0.2},{"pH":"5.13","ppm":8.94,"signal":0.0},{"pH":"5.13","ppm":8.92,"signal":-0.3},{"pH":"5.13","ppm":8.90,"signal":0.3},{"pH":"5.13","ppm":8.88,"signal":0.1},{"pH":"5.13","ppm":8.86,"signal":-0.2},{"pH":"5.13","ppm":8.84,"signal":0.2},{"pH":"5.13","ppm":8.82,"signal":0.0},{"pH":"5.13","ppm":8.80,"signal":-0.3},{"pH":"5.13","ppm":8.78,"signal":0.2},{"pH":"5.13","ppm":8.76,"signal":0.4},{"pH":"5.13","ppm":8.74,"signal":-0.1},{"pH":"5.13","ppm":8.72,"signal":0.0},{"pH":"5.13","ppm":8.70,"signal":0.3},{"pH":"5.13","ppm":8.68,"signal":-0.2},{"pH":"5.13","ppm":8.66,"signal":0.1},{"pH":"5.13","ppm":8.64,"signal":0.2},{"pH":"5.13","ppm":8.62,"signal":-0.3},{"pH":"5.13","ppm":8.60,"signal":0.0},{"pH":"5.13","ppm":8.58,"signal":0.3},{"pH":"5.13","ppm":8.56,"signal":0.1},{"pH":"5.13","ppm":8.54,"signal":-0.2},{"pH":"5.13","ppm":8.52,"signal":0.2},{"pH":"5.13","ppm":8.50,"signal":0.0},{"pH":"5.13","ppm":8.48,"signal":-0.3},{"pH":"5.13","ppm":8.46,"signal":0.2},{"pH":"5.13","ppm":8.44,"signal":0.1},{"pH":"5.13","ppm":8.42,"signal":-0.1},{"pH":"5.13","ppm":8.40,"signal":0.3},{"pH":"5.13","ppm":8.38,"signal":0.0},{"pH":"5.13","ppm":8.36,"signal":-0.2},{"pH":"5.13","ppm":8.34,"signal":0.2},{"pH":"5.13","ppm":8.32,"signal":0.1},{"pH":"5.13","ppm":8.30,"signal":-0.3},{"pH":"5.13","ppm":8.28,"signal":0.0},{"pH":"5.13","ppm":8.26,"signal":0.2},{"pH":"5.13","ppm":8.24,"signal":-0.1},{"pH":"5.13","ppm":8.22,"signal":0.3},{"pH":"5.13","ppm":8.20,"signal":0.0},{"pH":"5.13","ppm":8.18,"signal":-0.2},{"pH":"5.13","ppm":8.16,"signal":0.2},{"pH":"5.13","ppm":8.14,"signal":0.0},{"pH":"5.13","ppm":8.12,"signal":-0.3},{"pH":"5.13","ppm":8.10,"signal":0.1},{"pH":"5.13","ppm":8.08,"signal":0.3},{"pH":"5.13","ppm":8.06,"signal":-0.1},{"pH":"5.13","ppm":8.04,"signal":0.0},{"pH":"5.13","ppm":8.02,"signal":0.2},{"pH":"5.13","ppm":8.00,"signal":-0.2},{"pH":"5.13","ppm":7.98,"signal":0.1},{"pH":"5.13","ppm":7.96,"signal":0.3},{"pH":"5.13","ppm":7.94,"signal":0.0},
    {"pH":"5.13","ppm":7.9198,"signal":1.1},{"pH":"5.13","ppm":7.9098,"signal":2.4},{"pH":"5.13","ppm":7.9028,"signal":5.4},{"pH":"5.13","ppm":7.8978,"signal":12.5},{"pH":"5.13","ppm":7.8948,"signal":24.9},{"pH":"5.13","ppm":7.8928,"signal":41.9},{"pH":"5.13","ppm":7.8913,"signal":58.8},{"pH":"5.13","ppm":7.8898,"signal":68},{"pH":"5.13","ppm":7.8883,"signal":58.6},{"pH":"5.13","ppm":7.8868,"signal":41.7},{"pH":"5.13","ppm":7.8848,"signal":24.7},{"pH":"5.13","ppm":7.8818,"signal":12.3},{"pH":"5.13","ppm":7.8768,"signal":5.3},{"pH":"5.13","ppm":7.8698,"signal":2.3},{"pH":"5.13","ppm":7.8598,"signal":1.0},
    {"pH":"5.13","ppm":7.848,"signal":0.2}
  ]},
  "spacing": 0,
  "bounds": "flush",
  "resolve": {"scale": {"x": "independent", "y": "independent"}},
  "vconcat": [
    {
      "width": 760, "height": 60,
      "title": {"text": "pH", "anchor": "start", "frame": "bounds", "font": "Liberation Sans", "fontSize": 53, "fontWeight": "bold", "color": "black", "offset": -4},
      "encoding": {
        "x": {"field": "ppm", "type": "quantitative", "scale": {"domain": [9.0, 7.8485], "nice": false, "zero": false}, "axis": null},
        "y": {"field": "signal", "type": "quantitative", "scale": {"domain": [-2, 58], "nice": false, "zero": false}, "axis": {"values": [0], "labelExpr": "'1.11'", "title": null}}
      },
      "layer": [
        {"transform": [{"filter": "datum.pH === '1.11'"}], "mark": {"type": "line"}},
        {"data": {"values": [{"ppm": 8.7398, "signal": 48, "label": "H8G"}]}, "mark": {"type": "text", "color": "#ff0000", "font": "Liberation Sans", "fontSize": 38, "fontWeight": "bold", "baseline": "middle", "align": "center"}, "encoding": {"text": {"field": "label"}}}
      ]
    },
    {
      "width": 760, "height": 124,
      "transform": [{"filter": "datum.pH === '1.44'"}],
      "mark": {"type": "line"},
      "encoding": {
        "x": {"field": "ppm", "type": "quantitative", "scale": {"domain": [9.0, 7.8485], "nice": false, "zero": false}, "axis": null},
        "y": {"field": "signal", "type": "quantitative", "scale": {"domain": [-2, 122], "nice": false, "zero": false}, "axis": {"values": [0], "labelExpr": "'1.44'", "title": null}}
      }
    },
    {
      "width": 760, "height": 117,
      "transform": [{"filter": "datum.pH === '1.66'"}],
      "mark": {"type": "line"},
      "encoding": {
        "x": {"field": "ppm", "type": "quantitative", "scale": {"domain": [9.0, 7.8485], "nice": false, "zero": false}, "axis": null},
        "y": {"field": "signal", "type": "quantitative", "scale": {"domain": [-2, 115], "nice": false, "zero": false}, "axis": {"values": [0], "labelExpr": "'1.66'", "title": null}}
      }
    },
    {
      "width": 760, "height": 127,
      "transform": [{"filter": "datum.pH === '1.92'"}],
      "mark": {"type": "line"},
      "encoding": {
        "x": {"field": "ppm", "type": "quantitative", "scale": {"domain": [9.0, 7.8485], "nice": false, "zero": false}, "axis": null},
        "y": {"field": "signal", "type": "quantitative", "scale": {"domain": [-2, 125], "nice": false, "zero": false}, "axis": {"values": [0], "labelExpr": "'1.92'", "title": null}}
      }
    },
    {
      "width": 760, "height": 129,
      "transform": [{"filter": "datum.pH === '2.09'"}],
      "mark": {"type": "line"},
      "encoding": {
        "x": {"field": "ppm", "type": "quantitative", "scale": {"domain": [9.0, 7.8485], "nice": false, "zero": false}, "axis": null},
        "y": {"field": "signal", "type": "quantitative", "scale": {"domain": [-2, 127], "nice": false, "zero": false}, "axis": {"values": [0], "labelExpr": "'2.09'", "title": null}}
      }
    },
    {
      "width": 760, "height": 117,
      "transform": [{"filter": "datum.pH === '2.44'"}],
      "mark": {"type": "line"},
      "encoding": {
        "x": {"field": "ppm", "type": "quantitative", "scale": {"domain": [9.0, 7.8485], "nice": false, "zero": false}, "axis": null},
        "y": {"field": "signal", "type": "quantitative", "scale": {"domain": [-2, 115], "nice": false, "zero": false}, "axis": {"values": [0], "labelExpr": "'2.44'", "title": null}}
      }
    },
    {
      "width": 760, "height": 128,
      "transform": [{"filter": "datum.pH === '2.60'"}],
      "mark": {"type": "line"},
      "encoding": {
        "x": {"field": "ppm", "type": "quantitative", "scale": {"domain": [9.0, 7.8485], "nice": false, "zero": false}, "axis": null},
        "y": {"field": "signal", "type": "quantitative", "scale": {"domain": [-2, 126], "nice": false, "zero": false}, "axis": {"values": [0], "labelExpr": "'2.60'", "title": null}}
      }
    },
    {
      "width": 760, "height": 122,
      "transform": [{"filter": "datum.pH === '3.13'"}],
      "mark": {"type": "line"},
      "encoding": {
        "x": {"field": "ppm", "type": "quantitative", "scale": {"domain": [9.0, 7.8485], "nice": false, "zero": false}, "axis": null},
        "y": {"field": "signal", "type": "quantitative", "scale": {"domain": [-2, 120], "nice": false, "zero": false}, "axis": {"values": [0], "labelExpr": "'3.13'", "title": null}}
      }
    },
    {
      "width": 760, "height": 112,
      "transform": [{"filter": "datum.pH === '3.47'"}],
      "mark": {"type": "line"},
      "encoding": {
        "x": {"field": "ppm", "type": "quantitative", "scale": {"domain": [9.0, 7.8485], "nice": false, "zero": false}, "axis": null},
        "y": {"field": "signal", "type": "quantitative", "scale": {"domain": [-2, 110], "nice": false, "zero": false}, "axis": {"values": [0], "labelExpr": "'3.47'", "title": null}}
      }
    },
    {
      "width": 760, "height": 105,
      "encoding": {
        "x": {"field": "ppm", "type": "quantitative", "scale": {"domain": [9.0, 7.8485], "nice": false, "zero": false},
          "axis": {
            "values": [9.0, 8.9, 8.8, 8.7, 8.6, 8.5, 8.4, 8.3, 8.2, 8.1, 8.0, 7.9],
            "labelExpr": "indexof(['8.8', '8.6', '8.4', '8.2'], format(datum.value, '.1f')) >= 0 ? format(datum.value, '.1f') : ''",
            "offset": 13, "grid": false,
            "domainColor": "black", "domainWidth": 1, "tickColor": "black", "tickWidth": 1,
            "tickSize": {"condition": {"test": "round(datum.value * 10) % 2 !== 0", "value": 6}, "value": 18},
            "labelFont": "Liberation Mono", "labelFontSize": 36, "labelColor": "black", "labelBaseline": "alphabetic", "labelPadding": 37,
            "labelFlush": false, "labelOverlap": false, "labelBound": false,
            "title": "ppm", "titleFont": "Liberation Mono", "titleFontSize": 36, "titleFontWeight": "normal", "titleColor": "black",
            "titleAnchor": "end", "titleAlign": "right", "titleBaseline": "alphabetic", "titleX": 760, "titleY": 55
          }},
        "y": {"field": "signal", "type": "quantitative", "scale": {"domain": [-2, 103], "nice": false, "zero": false}, "axis": {"values": [0], "labelExpr": "'5.13'", "title": null}}
      },
      "layer": [
        {"transform": [{"filter": "datum.pH === '5.13'"}], "mark": {"type": "line"}},
        {"data": {"values": [{"ppm": 7.9588, "signal": 35, "label": "H8G"}]}, "mark": {"type": "text", "color": "#ff0000", "font": "Liberation Sans", "fontSize": 38, "fontWeight": "bold", "baseline": "middle", "align": "center"}, "encoding": {"text": {"field": "label"}}}
      ]
    }
  ],
  "config": {
    "view": {"stroke": null},
    "line": {"color": "black", "strokeWidth": 1},
    "axisY": {"domain": false, "ticks": false, "grid": false, "labelFont": "Liberation Sans", "labelFontSize": 32, "labelFontWeight": "bold", "labelColor": "black", "labelAlign": "left", "labelPadding": 125, "labelOffset": 2, "labelFlush": false, "labelOverlap": false}
  }
}
